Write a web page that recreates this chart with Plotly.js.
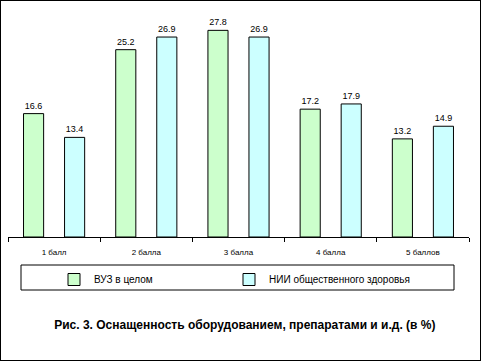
<!DOCTYPE html>
<html><head><meta charset="utf-8">
<script src="https://cdn.plot.ly/plotly-3.0.1.min.js"></script>
<style>
html,body{margin:0;padding:0;background:#fff;}
#wrap{position:relative;width:481px;height:361px;}
#chart{width:481px;height:361px;}
#frame{position:absolute;left:0;top:0;width:481px;height:361px;box-sizing:border-box;border:1px solid #000;pointer-events:none;}
</style></head>
<body>
<div id="wrap"><div id="chart"></div><div id="frame"></div></div>
<script>
const categories = ['1 балл', '2 балла', '3 балла', '4 балла', '5 баллов'];
const seriesNames = ['ВУЗ в целом', 'НИИ общественного здоровья'];
const vuzValues = [16.6, 25.2, 27.8, 17.2, 13.2];
const niiValues = [13.4, 26.9, 26.9, 17.9, 14.9];
const chartTitle = 'Рис. 3. Оснащенность оборудованием, препаратами и и.д. (в %)';

const F = 'Arial, "Liberation Sans", sans-serif';
const common = {
  type: 'bar',
  texttemplate: '%{y:.1f}',
  textposition: 'outside',
  cliponaxis: false,
  textfont: {family: F, size: 9, color: '#000'},
  hoverinfo: 'none'
};
const traces = [
  Object.assign({}, common, {x: categories, y: vuzValues, name: seriesNames[0], legend: 'legend',
    marker: {color: '#CCFFCC', line: {color: '#000', width: 1}}}),
  Object.assign({}, common, {x: categories, y: niiValues, name: seriesNames[1], legend: 'legend2',
    marker: {color: '#CCFFFF', line: {color: '#000', width: 1}}})
];
const ml = 8, mr = 12, mt = 14, mb = 124;
const pw = 481 - ml - mr, ph = 361 - mt - mb;
const px = v => (v - ml) / pw;
const py = v => (361 - mb - v) / ph;
const legendBase = {orientation: 'h', xanchor: 'left', yanchor: 'top', yref: 'paper', xref: 'paper',
  font: {family: F, size: 10, color: '#000'}, bgcolor: 'rgba(0,0,0,0)', borderwidth: 0, itemclick: false};
const layout = {
  width: 481, height: 361,
  margin: {l: ml, r: mr, t: mt, b: mb, pad: 0, autoexpand: false},
  paper_bgcolor: '#fff', plot_bgcolor: '#fff',
  barmode: 'group', bargap: 0.11, bargroupgap: 0.51,
  showlegend: true,
  legend: Object.assign({}, legendBase, {x: px(54), y: py(265)}),
  legend2: Object.assign({}, legendBase, {x: px(229), y: py(265)}),
  title: {text: chartTitle, font: {family: F, size: 12, color: '#000', weight: 'bold'},
    x: 0.509, xref: 'container', xanchor: 'center', y: 1 - 325/361, yref: 'container', yanchor: 'middle'},
  xaxis: {type: 'category', showline: true, linecolor: '#000', linewidth: 1,
    ticks: 'outside', tickson: 'boundaries', ticklen: 4, tickcolor: '#000', tickwidth: 1,
    ticklabelstandoff: 7,
    tickfont: {family: F, size: 8, color: '#000'}, showgrid: false, zeroline: false, fixedrange: true},
  yaxis: {range: [0, 30], visible: false, showgrid: false, zeroline: false, fixedrange: true},
  shapes: [{type: 'rect', xref: 'paper', yref: 'paper', x0: px(21), x1: px(454), y0: py(265), y1: py(290),
    line: {color: '#000', width: 1}, fillcolor: 'rgba(0,0,0,0)'}]
};
Plotly.newPlot('chart', traces, layout, {displayModeBar: false, staticPlot: true});
</script>
</body></html>
